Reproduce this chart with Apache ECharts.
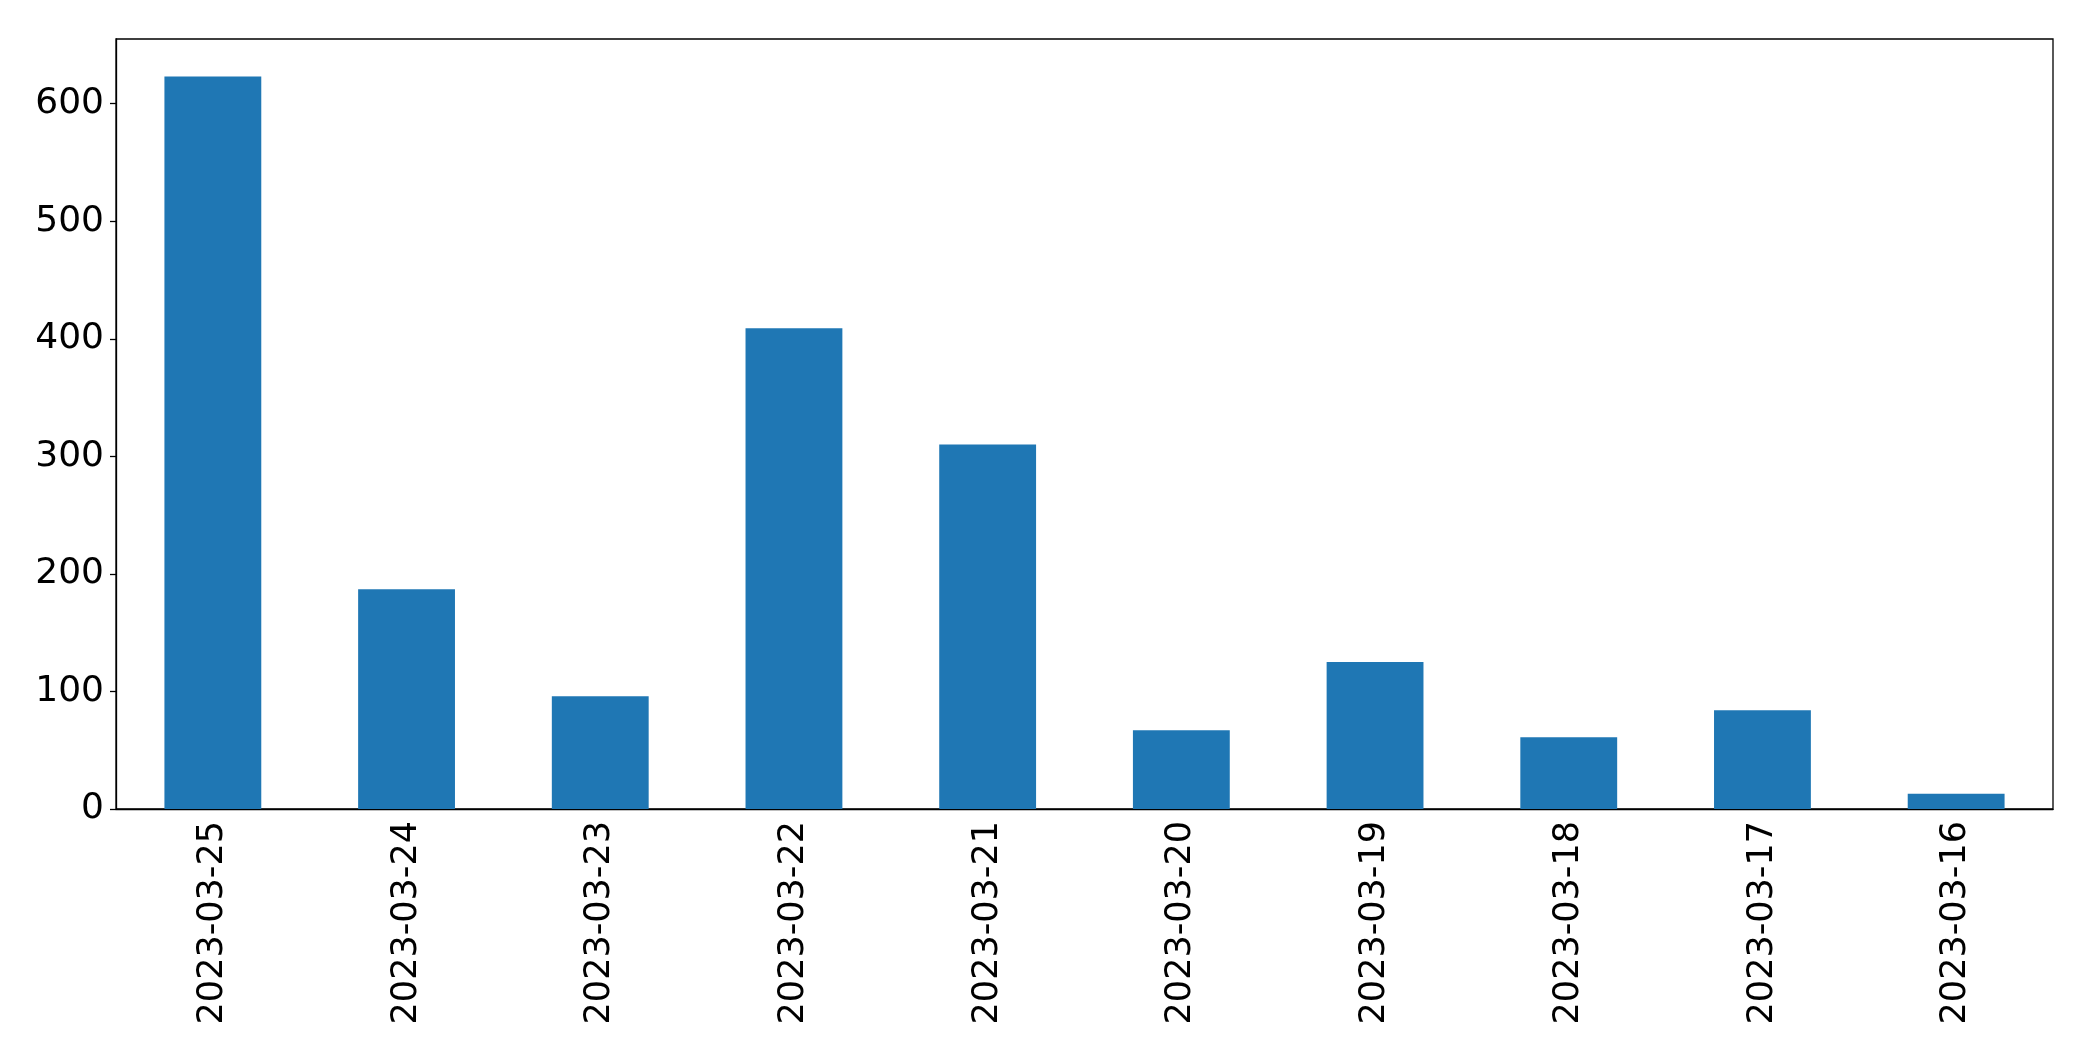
<!DOCTYPE html>
<html><head><meta charset="utf-8">
<script src="https://cdn.jsdelivr.net/npm/echarts@6/dist/echarts.min.js"></script>
<style>html,body{margin:0;padding:0;background:#fff}#c{width:2093px;height:1061px}</style>
</head><body><div id="c"></div>
<script>
const categories = ['2023-03-25','2023-03-24','2023-03-23','2023-03-22','2023-03-21','2023-03-20','2023-03-19','2023-03-18','2023-03-17','2023-03-16'];
const values = [623, 187, 96, 409, 310, 67, 125, 61, 84, 13];
const yTicks = [0, 100, 200, 300, 400, 500, 600];

const chart = echarts.init(document.getElementById('c'), null, {renderer: 'canvas'});
const font = 'DejaVu Sans';
chart.setOption({
  animation: false,
  backgroundColor: '#fff',
  grid: {left: 116, right: 40, top: 39, bottom: 252, show: true, borderColor: '#000', borderWidth: 1.3, backgroundColor: 'transparent'},
  xAxis: {
    type: 'category', data: categories, boundaryGap: true,
    axisLine: {lineStyle: {color: '#000', width: 1.3}},
    axisTick: {alignWithLabel: true, length: 6, lineStyle: {color: '#000', width: 1.3}},
    axisLabel: {rotate: 90, color: '#000', fontFamily: font, fontSize: 35, margin: 12}
  },
  yAxis: {
    type: 'value', min: 0, max: 655, interval: 100,
    axisLine: {show: true, lineStyle: {color: '#000', width: 1.3}},
    axisTick: {show: true, length: 6, customValues: yTicks, lineStyle: {color: '#000', width: 1.3}},
    splitLine: {show: false},
    axisLabel: {color: '#000', fontFamily: font, fontSize: 36, margin: 12, customValues: yTicks,
      formatter: v => yTicks.includes(v) ? String(v) : ''}
  },
  series: [{type: 'bar', data: values, barWidth: '50%', itemStyle: {color: '#1f77b4'}}]
});
</script></body></html>
